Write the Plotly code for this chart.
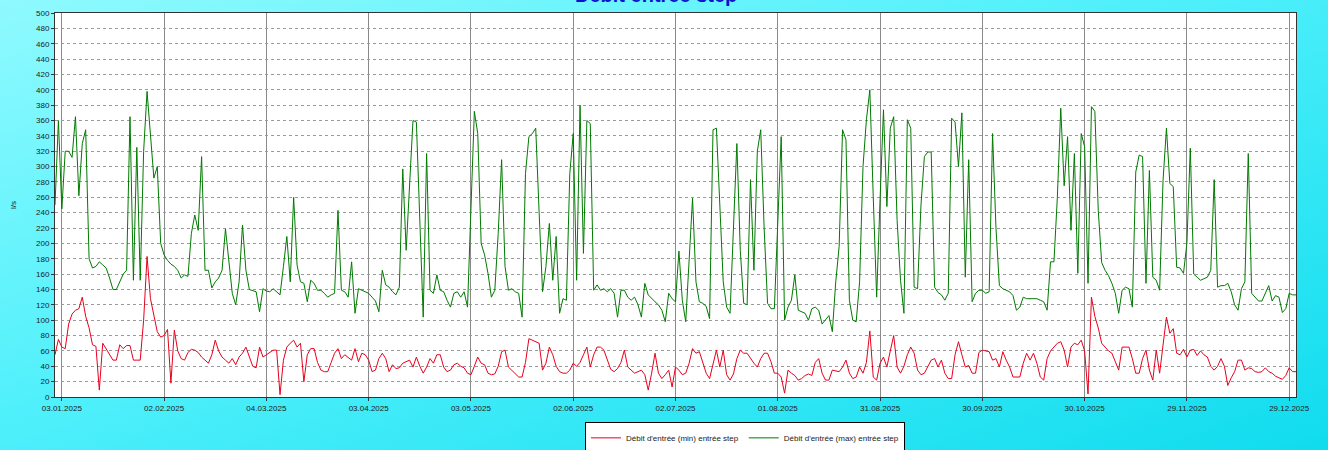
import pandas as pd
import plotly.graph_objects as go

start_date = "2025-01-01"

max_flow = [
    250, 360, 245, 320, 320, 312, 365, 262, 330, 348,
    180, 168, 170, 176, 172, 168, 155, 140, 140, 150,
    160, 165, 365, 152, 325, 152, 320, 398, 340, 285,
    300, 200, 185, 178, 173, 170, 165, 155, 159, 157,
    213, 237, 217, 313, 165, 165, 142, 150, 155, 165,
    219, 174, 135, 120, 150, 224, 165, 140, 138, 137,
    111, 141, 138, 137, 141, 137, 133, 170, 209, 150,
    260, 172, 150, 148, 124, 152, 148, 139, 139, 135,
    130, 133, 135, 243, 139, 137, 130, 176, 109, 141,
    139, 137, 135, 130, 125, 111, 165, 146, 143, 137,
    133, 143, 297, 191, 283, 360, 358, 217, 104, 317,
    139, 135, 159, 139, 137, 126, 117, 135, 137, 130,
    137, 117, 256, 372, 343, 200, 185, 161, 130, 139,
    213, 309, 170, 139, 141, 137, 135, 104, 291, 339,
    343, 350, 240, 137, 170, 226, 152, 209, 109, 128,
    126, 291, 343, 152, 380, 187, 360, 356, 139, 146,
    139, 141, 137, 141, 135, 104, 139, 139, 130, 126,
    130, 120, 104, 148, 133, 128, 124, 120, 113, 98,
    135, 128, 124, 190, 126, 98, 180, 259, 150, 124,
    122, 118, 102, 348, 350, 250, 150, 117, 109, 220,
    330, 191, 122, 120, 283, 165, 320, 348, 220, 122,
    115, 115, 230, 339, 100, 117, 126, 159, 113, 111,
    109, 100, 115, 117, 113, 95, 100, 106, 85, 150,
    196, 348, 335, 126, 100, 98, 150, 300, 361, 400,
    261, 130, 257, 374, 248, 350, 365, 230, 152, 109,
    361, 350, 143, 141, 250, 313, 319, 319, 143, 136,
    133, 126, 135, 363, 358, 300, 370, 156, 309, 124,
    135, 139, 139, 135, 137, 343, 220, 145, 141, 139,
    137, 132, 113, 117, 130, 128, 128, 128, 128, 126,
    124, 113, 176, 176, 260, 376, 275, 339, 217, 317,
    161, 343, 326, 148, 378, 372, 243, 175, 165, 158,
    148, 135, 109, 139, 143, 141, 117, 293, 315, 313,
    148, 295, 156, 152, 139, 282, 350, 278, 274, 169,
    168, 161, 200, 324, 160, 156, 152, 154, 156, 165,
    283, 143, 145, 145, 148, 137, 120, 113, 141, 150,
    317, 135, 130, 125, 125, 135, 145, 125, 132, 130,
    110, 115, 135, 133, 133,
]

min_flow = [
    55, 75, 65, 63, 95, 108, 113, 115, 130, 105,
    90, 68, 66, 9, 70, 63, 55, 48, 48, 68,
    63, 67, 67, 48, 48, 48, 100, 183, 128, 104,
    85, 78, 80, 88, 18, 87, 60, 50, 48, 58,
    62, 61, 58, 52, 48, 44, 55, 74, 60, 52,
    48, 44, 50, 42, 52, 57, 65, 52, 40, 38,
    65, 52, 55, 58, 61, 61, 3, 48, 65, 70,
    74, 65, 70, 20, 55, 63, 63, 45, 35, 33,
    33, 45, 57, 63, 50, 55, 52, 48, 63, 46,
    57, 55, 48, 33, 35, 50, 57, 50, 33, 42,
    37, 38, 44, 46, 48, 39, 52, 40, 31, 39,
    50, 44, 55, 55, 39, 33, 35, 42, 44, 40,
    38, 31, 29, 40, 52, 44, 42, 31, 29, 30,
    40, 59, 61, 39, 35, 30, 26, 26, 45, 76,
    74, 72, 70, 35, 44, 65, 55, 40, 33, 31,
    31, 35, 44, 40, 45, 55, 65, 39, 55, 65,
    65, 61, 48, 36, 33, 37, 45, 61, 39, 35,
    31, 33, 35, 29, 9, 31, 57, 31, 24, 29,
    35, 13, 39, 35, 29, 31, 44, 63, 57, 59,
    44, 31, 24, 44, 61, 39, 61, 29, 22, 30,
    50, 61, 57, 57, 50, 44, 39, 50, 57, 57,
    46, 31, 31, 26, 5, 35, 31, 28, 22, 24,
    28, 30, 28, 45, 50, 31, 22, 22, 35, 34,
    33, 39, 48, 31, 24, 26, 39, 31, 45, 86,
    26, 22, 44, 52, 39, 60, 80, 39, 31, 40,
    55, 65, 57, 35, 29, 31, 40, 48, 50, 39,
    48, 31, 24, 24, 55, 72, 55, 39, 41, 31,
    31, 58, 61, 60, 59, 48, 50, 39, 59, 48,
    39, 26, 26, 26, 44, 57, 48, 57, 44, 26,
    22, 50, 60, 65, 70, 72, 61, 39, 65, 70,
    68, 74, 60, 4, 130, 105, 90, 70, 65, 60,
    57, 45, 35, 65, 65, 65, 50, 31, 31, 50,
    61, 35, 22, 61, 31, 65, 104, 83, 89, 57,
    55, 62, 52, 61, 62, 54, 60, 55, 52, 40,
    35, 40, 50, 40, 15, 25, 33, 48, 48, 35,
    38, 37, 33, 32, 33, 38, 33, 31, 27, 25,
    23, 28, 38, 33, 33,
]

tick_labels = ["03.01.2025", "02.02.2025", "04.03.2025", "03.04.2025", "03.05.2025",
               "02.06.2025", "02.07.2025", "01.08.2025", "31.08.2025", "30.09.2025",
               "30.10.2025", "29.11.2025", "29.12.2025"]

title_text = "Débit entrée step"
name_min = "Débit d'entrée (min) entrée step"
name_max = "Débit d'entrée (max) entrée step"
y_title = "l/s"

dates = pd.date_range(start_date, periods=len(max_flow), freq="D")
tick_vals = [pd.to_datetime(t, format="%d.%m.%Y") for t in tick_labels]

fig = go.Figure()
fig.add_trace(go.Scatter(x=dates, y=min_flow, mode="lines", name=name_min,
                         line=dict(color="#e8001c", width=1)))
fig.add_trace(go.Scatter(x=dates, y=max_flow, mode="lines", name=name_max,
                         line=dict(color="#007a00", width=1)))

font = "Liberation Sans, Arial, sans-serif"
fig.update_layout(
    width=1328, height=450,
    margin=dict(l=55, r=32, t=13, b=53, autoexpand=False),
    paper_bgcolor="rgba(0,0,0,0)",
    plot_bgcolor="white",
    font=dict(family=font, size=8, color="#222"),
    showlegend=True,
    legend=dict(orientation="h", xref="container", x=0.4405, xanchor="left",
                yref="container", y=0.027, yanchor="middle",
                bgcolor="white", bordercolor="black", borderwidth=1,
                font=dict(family=font, size=8, color="#222"),
                itemwidth=30, tracegroupgap=0),
    annotations=[dict(text="<b>" + title_text + "</b>", xref="paper", yref="paper",
                      x=0.484, y=1.0, xanchor="center", yanchor="bottom", yshift=5,
                      showarrow=False,
                      font=dict(family=font, size=20, color="#0a14d0"))],
)
fig.update_xaxes(
    range=[dates[0], dates[-1]],
    tickvals=tick_vals, ticktext=tick_labels,
    showgrid=True, gridcolor="#8a8a8a", gridwidth=1,
    showline=True, linecolor="#333", linewidth=1, mirror=True,
    ticks="outside", ticklen=3, tickcolor="#333",
    tickfont=dict(size=8, color="#222"), zeroline=False,
)
fig.update_yaxes(
    range=[0, 500], dtick=20, tick0=0,
    showgrid=True, gridcolor="#9a9a9a", gridwidth=1, griddash="dot",
    showline=True, linecolor="#333", linewidth=1, mirror=True,
    ticks="outside", ticklen=3, tickcolor="#333",
    tickfont=dict(size=8, color="#222"), zeroline=False,
    title=dict(text=y_title, font=dict(size=8, color="#222"), standoff=18),
)

post = """
document.body.style.margin='0';
document.body.style.background='linear-gradient(160deg, #8ffaff 0%, #4ff0fb 45%, #10dcee 100%)';
document.documentElement.style.background='linear-gradient(160deg, #8ffaff 0%, #4ff0fb 45%, #10dcee 100%)';
"""
fig.write_html("out.html", post_script=post, config={"displayModeBar": False})
